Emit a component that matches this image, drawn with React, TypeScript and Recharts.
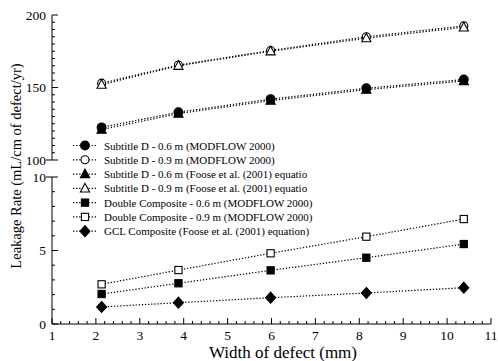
import React from "react";
import { LineChart, Line, XAxis, YAxis } from "recharts";

// widths of defect (mm)
const widths = [2.13, 3.88, 5.98, 8.16, 10.38];

// leakage rates (mL/cm of defect/yr)
const subtitleD06Modflow = [122.5, 133, 142, 149.5, 155.5];
const subtitleD09Modflow = [153, 165.5, 175.5, 185, 192.5];
const subtitleD06Foose = [121, 132, 141, 148.5, 154.5];
const subtitleD09Foose = [152, 165, 175, 184, 191.5];
const doubleComp06Modflow = [2.04, 2.77, 3.65, 4.51, 5.44];
const doubleComp09Modflow = [2.7, 3.67, 4.81, 5.94, 7.14];
const gclCompFoose = [1.16, 1.45, 1.79, 2.11, 2.47];

const xMajorTicks = [1, 2, 3, 4, 5, 6, 7, 8, 9, 10, 11];
const topMajorTicks = [100, 150, 200];
const bottomMajorTicks = [0, 5, 10];

const legendLabels = [
  "Subtitle D - 0.6 m (MODFLOW 2000)",
  "Subtitle D - 0.9 m (MODFLOW 2000)",
  "Subtitle D - 0.6 m (Foose et al. (2001) equatio",
  "Subtitle D - 0.9 m (Foose et al. (2001) equatio",
  "Double Composite - 0.6 m (MODFLOW 2000)",
  "Double Composite - 0.9 m (MODFLOW 2000)",
  "GCL Composite (Foose et al. (2001) equation)",
];
const legendMarkers = ["circleF", "circleO", "triF", "triO", "sqF", "sqO", "diaF"];

const FONT = "Liberation Serif, DejaVu Serif, serif";
const txt = (size: number): React.CSSProperties => ({ fontFamily: FONT, fontSize: size });

const withMinors = (majors: number[], step: number) => {
  const out: number[] = [];
  for (let i = 0; i < majors.length - 1; i++) {
    const n = Math.round((majors[i + 1] - majors[i]) / step);
    for (let k = 0; k < n; k++) out.push(+(majors[i] + k * step).toFixed(4));
  }
  out.push(majors[majors.length - 1]);
  return out;
};

const xTicks = withMinors(xMajorTicks, 0.2);
const topTicks = withMinors(topMajorTicks, 5);
const bottomTicks = withMinors(bottomMajorTicks, 1);

const isMajor = (v: number, majors: number[]) => majors.some((m) => Math.abs(m - v) < 1e-6);

const topData = widths.map((w, i) => ({
  w,
  a: subtitleD06Modflow[i],
  b: subtitleD09Modflow[i],
  c: subtitleD06Foose[i],
  d: subtitleD09Foose[i],
}));
const bottomData = widths.map((w, i) => ({
  w,
  e: doubleComp06Modflow[i],
  f: doubleComp09Modflow[i],
  g: gclCompFoose[i],
}));

const Marker = ({ cx, cy, kind }: { cx: number; cy: number; kind: string }) => {
  const filled = kind.endsWith("F");
  const fill = filled ? "#000" : "#fff";
  const sw = 1.1;
  if (kind.startsWith("circle")) return <circle cx={cx} cy={cy} r={filled ? 4.4 : 4} fill={fill} stroke="#000" strokeWidth={sw} />;
  if (kind.startsWith("tri"))
    return (
      <polygon
        points={`${cx},${cy - 5} ${cx - 4.6},${cy + 3.6} ${cx + 4.6},${cy + 3.6}`}
        fill={fill}
        stroke="#000"
        strokeWidth={sw}
      />
    );
  if (kind.startsWith("sq")) return <rect x={cx - 3.6} y={cy - 3.6} width={7.2} height={7.2} fill={fill} stroke="#000" strokeWidth={sw} />;
  return (
    <polygon
      points={`${cx},${cy - 5.5} ${cx + 5},${cy} ${cx},${cy + 5.5} ${cx - 5},${cy}`}
      fill={fill}
      stroke="#000"
      strokeWidth={sw}
    />
  );
};

const dotOf = (kind: string) => (p: any) => <Marker key={`${kind}-${p.index}`} cx={p.cx} cy={p.cy} kind={kind} />;

const leftTick = (majors: number[], crossAt: number) => (p: any) => {
  const { x, y, payload } = p;
  const major = isMajor(payload.value, majors);
  const cross = payload.value === crossAt;
  return (
    <g>
      <line x1={cross ? x - 6 : x} x2={x + (major ? 6 : 3)} y1={y} y2={y} stroke="#000" />
      {major && (
        <text x={x - 6} y={y} textAnchor="end" dominantBaseline="central" style={txt(13.5)} fill="#000">
          {payload.value}
        </text>
      )}
    </g>
  );
};

const rightTick = (majors: number[]) => (p: any) => {
  const { x, y, payload } = p;
  const major = isMajor(payload.value, majors);
  return <line x1={x - (major ? 6 : 3)} x2={x} y1={y} y2={y} stroke="#000" />;
};

const topTick = (p: any) => {
  const { x, y, payload } = p;
  const major = isMajor(payload.value, xMajorTicks);
  return <line x1={x} x2={x} y1={y} y2={y + (major ? 6 : 3)} stroke="#000" />;
};

const bottomTick = (p: any) => {
  const { x, y, payload } = p;
  const major = isMajor(payload.value, xMajorTicks);
  return (
    <g>
      <line x1={x} x2={x} y1={y} y2={y - (major ? 6 : 3)} stroke="#000" />
      {major && (
        <text x={x} y={y + 11.5} textAnchor="middle" dominantBaseline="central" style={txt(13.5)} fill="#000">
          {payload.value}
        </text>
      )}
    </g>
  );
};

const lineProps = {
  type: "linear" as const,
  stroke: "#000",
  strokeWidth: 1.2,
  strokeDasharray: "1.3 1.8",
  isAnimationActive: false,
  activeDot: false,
};

export default function App() {
  const legendTop = 145.5;
  const legendStep = 14.28;
  return (
    <div style={{ position: "absolute", left: 0, top: 0, width: 498, height: 361, background: "#fff" }}>
      <div style={{ position: "absolute", left: 0, top: 0 }}>
        <LineChart width={498} height={175} data={topData} margin={{ top: 15, right: 7, bottom: 15, left: 0 }}>
          <XAxis
            dataKey="w"
            type="number"
            orientation="top"
            domain={[1, 11]}
            ticks={xTicks}
            interval={0}
            height={0}
            tickSize={0}
            tickMargin={0}
            tick={topTick}
            tickLine={false}
            axisLine={{ stroke: "#000" }}
          />
          <YAxis
            type="number"
            domain={[100, 200]}
            ticks={topTicks}
            interval={0}
            width={52}
            tickSize={0}
            tickMargin={0}
            tick={leftTick(topMajorTicks, 100)}
            tickLine={false}
            axisLine={{ stroke: "#000" }}
          />
          <YAxis
            yAxisId="r"
            orientation="right"
            type="number"
            domain={[100, 200]}
            ticks={topTicks}
            interval={0}
            width={0}
            tickSize={0}
            tickMargin={0}
            tick={rightTick(topMajorTicks)}
            tickLine={false}
            axisLine={{ stroke: "#000" }}
          />
          <Line dataKey="a" {...lineProps} dot={dotOf("circleF")} />
          <Line dataKey="c" {...lineProps} dot={dotOf("triF")} />
          <Line dataKey="b" {...lineProps} dot={dotOf("circleO")} />
          <Line dataKey="d" {...lineProps} dot={dotOf("triO")} />
        </LineChart>
      </div>
      <div style={{ position: "absolute", left: 0, top: 160 }}>
        <LineChart width={498} height={201} data={bottomData} margin={{ top: 17, right: 7, bottom: 0, left: 0 }}>
          <XAxis
            dataKey="w"
            type="number"
            domain={[1, 11]}
            ticks={xTicks}
            interval={0}
            height={37}
            tickSize={0}
            tickMargin={0}
            tick={bottomTick}
            tickLine={false}
            axisLine={{ stroke: "#000" }}
          />
          <YAxis
            type="number"
            domain={[0, 10]}
            ticks={bottomTicks}
            interval={0}
            width={52}
            tickSize={0}
            tickMargin={0}
            tick={leftTick(bottomMajorTicks, 10)}
            tickLine={false}
            axisLine={{ stroke: "#000" }}
          />
          <YAxis
            yAxisId="r"
            orientation="right"
            type="number"
            domain={[0, 10]}
            ticks={bottomTicks}
            interval={0}
            width={0}
            tickSize={0}
            tickMargin={0}
            tick={rightTick(bottomMajorTicks)}
            tickLine={false}
            axisLine={{ stroke: "#000" }}
          />
          <Line dataKey="f" {...lineProps} dot={dotOf("sqO")} />
          <Line dataKey="e" {...lineProps} dot={dotOf("sqF")} />
          <Line dataKey="g" {...lineProps} dot={dotOf("diaF")} />
        </LineChart>
      </div>
      <svg width={498} height={361} style={{ position: "absolute", left: 0, top: 0, pointerEvents: "none" }}>
        <text
          x={0}
          y={0}
          transform="translate(16,166) rotate(-90)"
          textAnchor="middle"
          dominantBaseline="central"
          style={txt(14.5)}
          fill="#000"
        >
          Leakage Rate (mL/cm of defect/yr)
        </text>
        <text x={283} y={352} textAnchor="middle" dominantBaseline="central" style={txt(17)} fill="#000">
          Width of defect (mm)
        </text>
        {legendLabels.map((label, i) => {
          const cy = legendTop + i * legendStep;
          return (
            <g key={label}>
              <line x1={73} x2={97} y1={cy} y2={cy} stroke="#000" strokeWidth={1.2} strokeDasharray="1.3 1.8" />
              <Marker cx={85} cy={cy} kind={legendMarkers[i]} />
              <text x={104} y={cy} dominantBaseline="central" style={txt(11)} fill="#000">
                {label}
              </text>
            </g>
          );
        })}
      </svg>
    </div>
  );
}
